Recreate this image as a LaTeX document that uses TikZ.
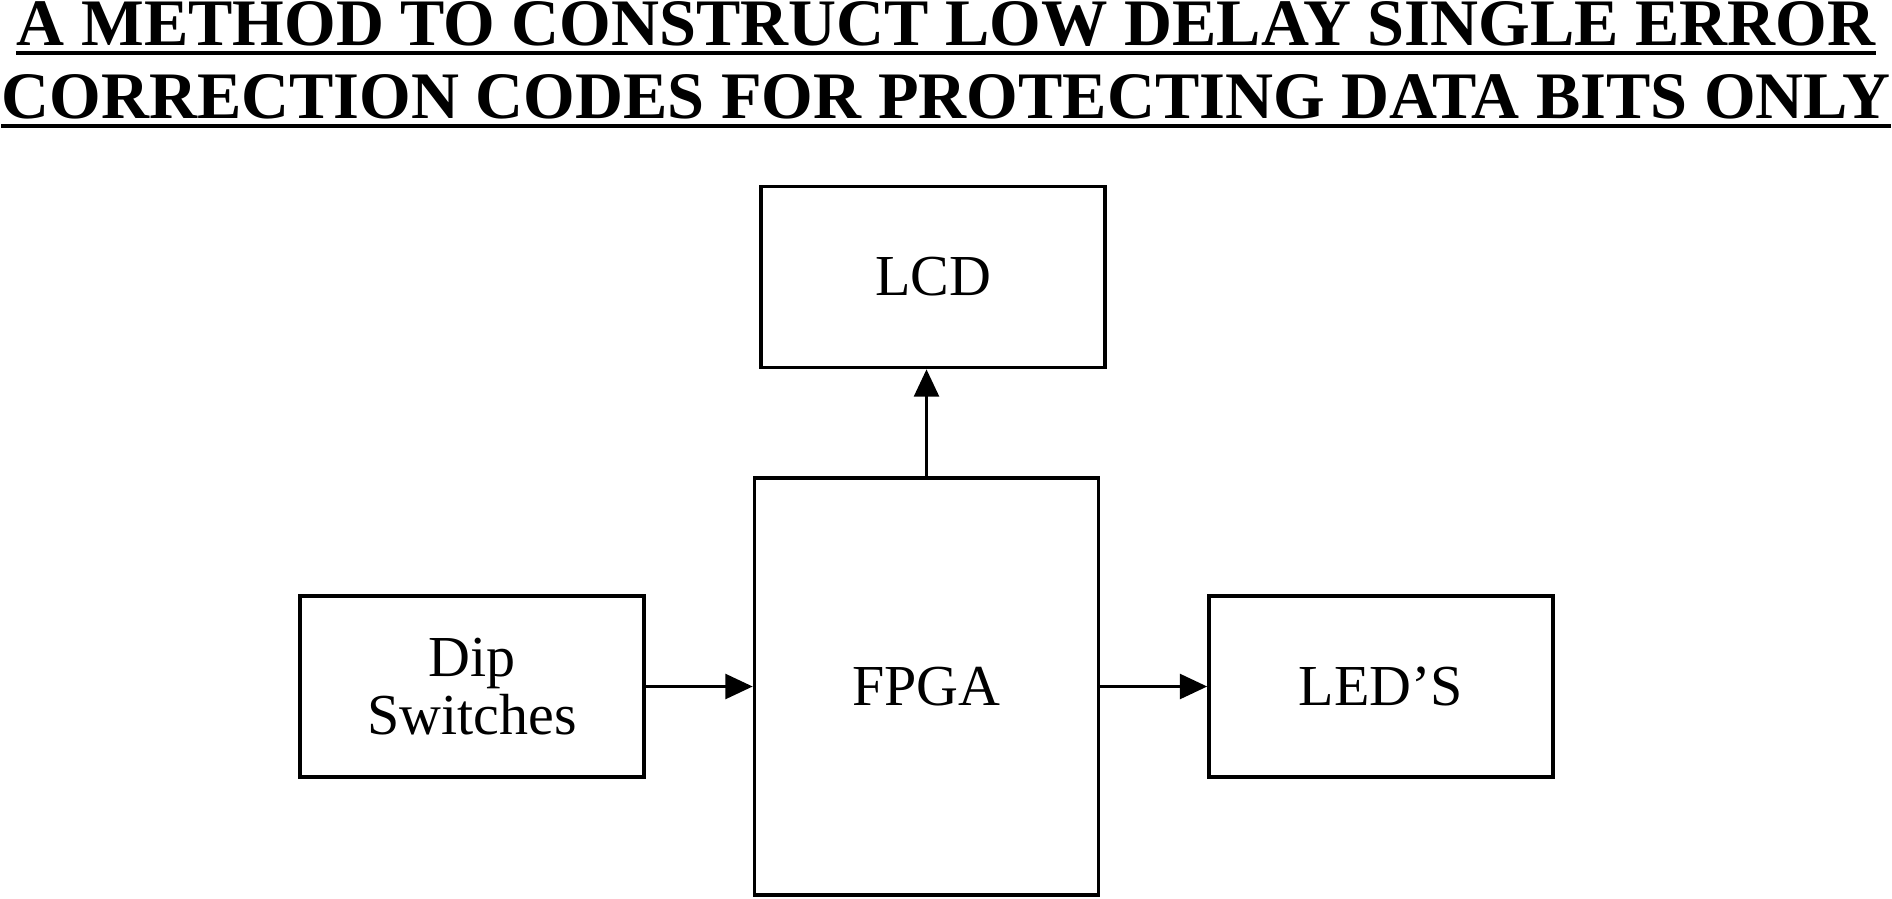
\documentclass[tikz,border=0pt]{standalone}
\usepackage{fontspec}
\setmainfont{Liberation Serif}
\usetikzlibrary{arrows.meta, positioning}

\begin{document}
\begin{tikzpicture}[
  box/.style={rectangle, draw, line width=1pt, minimum width=3.44cm, minimum height=1.81cm, align=center, font=\fontsize{16.5pt}{16.5pt}\selectfont},
  arrow/.style={-{Triangle[length=7.8pt, width=7pt]}, line width=1.1pt},
  heading/.style={font=\fontsize{18.9pt}{20pt}\selectfont\bfseries, inner sep=0pt, anchor=base},
  uline/.style={line width=1.1pt},
]
\useasboundingbox (0,0) rectangle (18.92,-8.98);

% ---- Title ----
\node[heading] (title1) at (9.46,-0.455) {A METHOD TO CONSTRUCT LOW DELAY SINGLE ERROR};
\node[heading] (title2) at (9.46,-1.185) {CORRECTION CODES FOR PROTECTING DATA BITS ONLY};
\draw[uline] ([yshift=-0.075cm]title1.base west) -- ([yshift=-0.075cm]title1.base east);
\draw[uline] ([yshift=-0.075cm]title2.base west) -- ([yshift=-0.075cm]title2.base east);

% ---- Blocks ----
\node[box, minimum height=4.17cm] (fpga) at (9.265,-6.865) {FPGA};
\node[box, above=1.07cm of fpga, xshift=0.065cm] (lcd) {LCD};
\node[box, left=1.07cm of fpga] (dip) {Dip\\Switches};
\node[box, right=1.07cm of fpga] (leds) {LED’S};

% ---- Arrows ----
\draw[arrow] (fpga.north) -- (fpga.north |- lcd.south);
\draw[arrow] (dip.east) -- (fpga.west);
\draw[arrow] (fpga.east) -- (leds.west);

\end{tikzpicture}
\end{document}
